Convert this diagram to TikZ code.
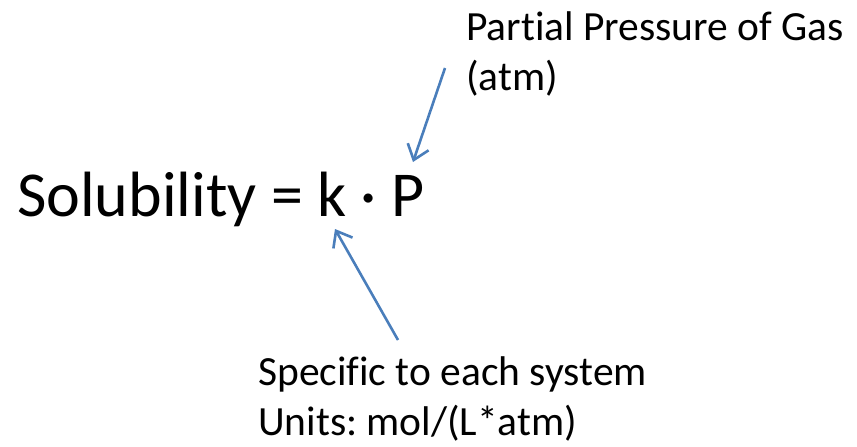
\documentclass[tikz,border=0pt]{standalone}
\usepackage{fontspec}
\setmainfont{Carlito}[Ligatures=NoCommon]
\usetikzlibrary{arrows.meta}
\definecolor{ppblue}{HTML}{4A7EBB}
\frenchspacing
\tikzset{
	eqtext/.style={inner sep=0,font=\fontsize{64}{76}\selectfont},
	lbltext/.style={inner sep=0,align=left,font=\fontsize{41.5}{50}\selectfont},
	ptr/.style={ppblue,line width=2.6pt,-{Straight Barb[length=14pt,width=22pt]}}
}
\begin{document}
\begin{tikzpicture}[x=1pt,y=-1pt]
	\useasboundingbox (0,0) rectangle (857,447);
	
	\node[eqtext,anchor=base west] (eqn) at (17,216) {Solubility = k · P};
	\node[lbltext,anchor=north west] (gas) at (466,11) {Partial Pressure of Gas\\(atm)};
	\node[lbltext,anchor=north west] (sys) at (258,356) {Specific to each system\\Units: mol/(L*atm)};
	
	\coordinate (gasfoot) at (445,68);
	\coordinate (ptip) at (413,162);
	\coordinate (sysfoot) at (398,340);
	\coordinate (ktip) at (335,229);
	
	\draw[ptr] (gasfoot) -- (ptip);
	\draw[ptr] (sysfoot) -- (ktip);
\end{tikzpicture}
\end{document}
